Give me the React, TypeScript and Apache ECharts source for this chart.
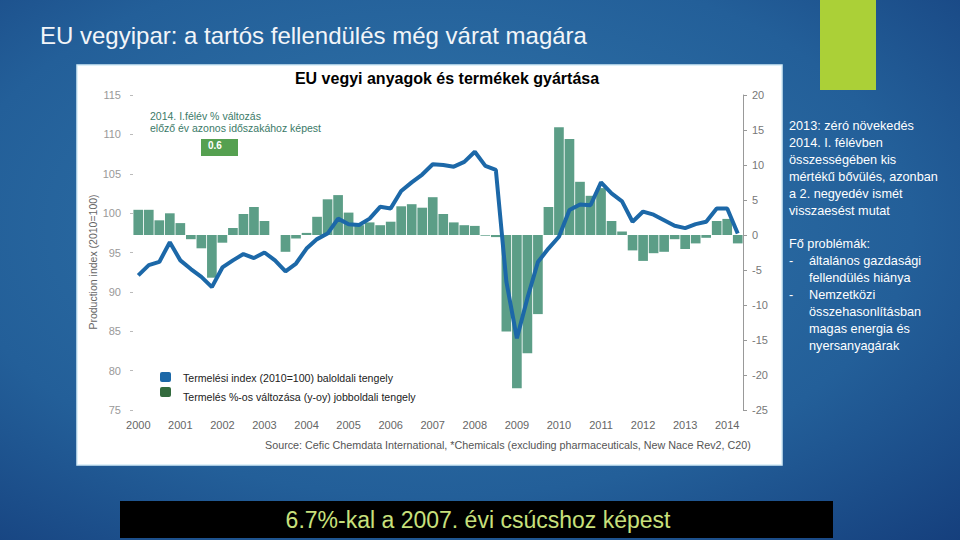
import React, { useEffect, useRef } from "react";
import * as echarts from "echarts";

const years = ["2000", "2001", "2002", "2003", "2004", "2005", "2006", "2007", "2008", "2009", "2010", "2011", "2012", "2013", "2014"];
const quarterNames = ["Q1", "Q2", "Q3", "Q4"];
const categories: string[] = [];
years.forEach((y) => quarterNames.forEach((q) => categories.push(y + " " + q)));
categories.length = 58; // 2000 Q1 – 2014 Q2

// Production index (2010=100), left axis
const productionIndex = [
  92.1, 93.4, 93.8, 96.3, 94.0, 92.9, 91.9, 90.6, 93.1, 94.0, 94.8, 94.3, 95.0, 94.0, 92.6, 93.6,
  95.5, 96.7, 97.4, 99.3, 98.6, 98.5, 99.3, 100.8, 100.6, 102.8, 103.9, 104.9, 106.2, 106.1, 105.9, 106.5,
  107.8, 106.0, 105.5, 91.3, 84.1, 89.2, 93.8, 95.5, 97.0, 100.4, 101.1, 101.0, 103.9, 102.5, 101.5, 98.9,
  100.2, 99.8, 99.1, 98.4, 98.1, 98.6, 98.9, 100.6, 100.6, 97.4,
];

// Year-on-year % change, right axis
const yoyChange = [
  3.6, 3.6, 2.1, 3.1, 1.7, -0.6, -1.9, -6.1, -1.1, 1.0, 3.0, 4.0, 2.0, 0.0, -2.4, -0.5,
  0.3, 2.6, 5.1, 5.7, 3.2, 1.4, 1.8, 1.4, 1.9, 4.1, 4.4, 3.9, 5.4, 3.0, 1.8, 1.4,
  1.3, -0.1, -0.3, -13.8, -21.9, -16.9, -11.3, 4.0, 15.4, 13.7, 7.6, 5.6, 6.7, 2.0, 0.5, -2.2,
  -3.7, -2.6, -2.4, -0.6, -2.0, -1.2, -0.4, 2.0, 2.3, -1.2,
];

const slideTitle = "EU vegyipar: a tartós fellendülés még várat magára";
const chartTitle = "EU vegyi anyagok és termékek gyártása";
const noteLines = ["2014. I.félév % változás", "előző év azonos időszakához képest"];
const noteValue = "0.6";
const yName = "Production index (2010=100)";
const legendLine = "Termelési index (2010=100) baloldali tengely";
const legendBar = "Termelés %-os változása (y-oy) jobboldali tengely";
const sourceText = "Source: Cefic Chemdata International, *Chemicals (excluding pharmaceuticals, New Nace Rev2, C20)";
const bannerText = "6.7%-kal a 2007. évi csúcshoz képest";
const sideLines = [
  { t: "2013: zéró növekedés", indent: 0 },
  { t: "2014. I. félévben", indent: 0 },
  { t: "összességében kis", indent: 0 },
  { t: "mértékű bővülés, azonban", indent: 0 },
  { t: "a 2. negyedév ismét", indent: 0 },
  { t: "visszaesést mutat", indent: 0 },
  { t: "", indent: 0 },
  { t: "Fő problémák:", indent: 0 },
  { t: "általános gazdasági", indent: 1 },
  { t: "fellendülés hiánya", indent: 1 },
  { t: "Nemzetközi", indent: 1 },
  { t: "összehasonlításban", indent: 1 },
  { t: "magas energia és", indent: 1 },
  { t: "nyersanyagárak", indent: 1 },
];
const dashLines = [8, 10];

const FONT = "Liberation Sans, Arial, sans-serif";

export default function App() {
  const ref = useRef<HTMLDivElement>(null);
  useEffect(() => {
    if (!ref.current) return;
    const chart = echarts.init(ref.current, null, { renderer: "svg" });

    const graphics: any[] = [];
    graphics.push({
      type: "rect",
      z: -100,
      shape: { x: 0, y: 0, width: 960, height: 540 },
      style: {
        fill: new echarts.graphic.RadialGradient(0.45, 0.42, 1.0, [
          { offset: 0, color: "#3278ac" },
          { offset: 0.5, color: "#235f99" },
          { offset: 1, color: "#0c2a6a" },
        ]),
      },
    });
    graphics.push({ type: "rect", z: -90, shape: { x: 820, y: 0, width: 56, height: 90 }, style: { fill: "#abd037" } });
    graphics.push({
      type: "text", z: 10, x: 40, y: 35,
      style: { text: slideTitle, fill: "#f2f5f9", fontSize: 24, fontFamily: FONT, textVerticalAlign: "middle" },
    });
    graphics.push({
      type: "rect", z: -80, shape: { x: 77, y: 65, width: 705, height: 400 },
      style: { fill: "#ffffff", stroke: "#d3ecf7", lineWidth: 1.5 },
    });
    graphics.push({
      type: "text", z: 10, x: 447, y: 78,
      style: { text: chartTitle, fill: "#000", fontSize: 16, fontWeight: "bold", fontFamily: FONT, textAlign: "center", textVerticalAlign: "middle" },
    });
    noteLines.forEach((t, i) => {
      graphics.push({
        type: "text", z: 10, x: 150, y: 116 + i * 12,
        style: { text: t, fill: "#3b7a68", fontSize: 10.5, fontFamily: FONT, textVerticalAlign: "middle" },
      });
    });
    graphics.push({ type: "rect", z: 10, shape: { x: 201, y: 139, width: 37, height: 17 }, style: { fill: "#55a050" } });
    graphics.push({
      type: "text", z: 11, x: 208, y: 145,
      style: { text: noteValue, fill: "#fff", fontSize: 10, fontWeight: "bold", fontFamily: FONT, textVerticalAlign: "middle" },
    });
    graphics.push({
      type: "text", z: 10, x: 93, y: 262, rotation: Math.PI / 2,
      style: { text: yName, fill: "#666", fontSize: 10.5, fontFamily: FONT, textAlign: "center", textVerticalAlign: "middle" },
    });
    graphics.push({ type: "rect", z: 10, shape: { x: 160, y: 372, width: 11, height: 10, r: 2 }, style: { fill: "#1c68a8" } });
    graphics.push({ type: "rect", z: 10, shape: { x: 160, y: 387, width: 11, height: 10, r: 2 }, style: { fill: "#336b3e" } });
    graphics.push({
      type: "text", z: 10, x: 183, y: 378,
      style: { text: legendLine, fill: "#222", fontSize: 10.6, fontFamily: FONT, textVerticalAlign: "middle" },
    });
    graphics.push({
      type: "text", z: 10, x: 183, y: 397,
      style: { text: legendBar, fill: "#222", fontSize: 10.6, fontFamily: FONT, textVerticalAlign: "middle" },
    });
    graphics.push({
      type: "text", z: 10, x: 265, y: 445,
      style: { text: sourceText, fill: "#555", fontSize: 10.75, fontFamily: FONT, textVerticalAlign: "middle" },
    });
    sideLines.forEach((l, i) => {
      if (!l.t) return;
      graphics.push({
        type: "text", z: 10, x: l.indent ? 809 : 789, y: 126 + i * 16.9,
        style: { text: l.t, fill: "#ffffff", fontSize: 12.7, fontFamily: FONT, textVerticalAlign: "middle" },
      });
    });
    dashLines.forEach((i) => {
      graphics.push({
        type: "text", z: 10, x: 789, y: 126 + i * 16.9,
        style: { text: "-", fill: "#ffffff", fontSize: 12.7, fontFamily: FONT, textVerticalAlign: "middle" },
      });
    });
    graphics.push({ type: "rect", z: 10, shape: { x: 120, y: 501, width: 713, height: 37 }, style: { fill: "#000" } });
    graphics.push({
      type: "text", z: 11, x: 478, y: 520,
      style: { text: bannerText, fill: "#c8e07c", fontSize: 23, fontFamily: FONT, textAlign: "center", textVerticalAlign: "middle" },
    });

    chart.setOption({
      animation: false,
      backgroundColor: "transparent",
      grid: { left: 133, right: 217, top: 95, bottom: 130, containLabel: false },
      xAxis: {
        type: "category",
        data: categories,
        boundaryGap: true,
        axisLine: { show: false },
        axisTick: { show: false },
        axisLabel: {
          interval: 3,
          margin: 9,
          color: "#666",
          fontSize: 11,
          fontFamily: FONT,
          formatter: (v: string) => v.split(" ")[0],
        },
      },
      yAxis: [
        {
          type: "value",
          min: 75,
          max: 115,
          interval: 5,
          position: "left",
          axisLine: { show: false },
          axisTick: { show: true, length: 3, lineStyle: { color: "#bbb" } },
          splitLine: { show: false },
          axisLabel: { color: "#999", fontSize: 11, fontFamily: FONT, margin: 12 },
        },
        {
          type: "value",
          min: -25,
          max: 20,
          interval: 5,
          position: "right",
          axisLine: { show: true, lineStyle: { color: "#999", width: 1 } },
          axisTick: { show: true, length: 4, lineStyle: { color: "#999" } },
          splitLine: { show: false },
          axisLabel: { color: "#777", fontSize: 11, fontFamily: FONT, margin: 9 },
        },
      ],
      series: [
        {
          type: "bar",
          yAxisIndex: 1,
          data: yoyChange,
          barCategoryGap: "8%",
          itemStyle: { color: "#5c9e87" },
          z: 2,
        },
        {
          type: "line",
          yAxisIndex: 0,
          data: productionIndex,
          symbol: "none",
          lineStyle: { color: "#1c68a8", width: 4 },
          z: 3,
        },
      ],
      graphic: { elements: graphics },
    });
    return () => chart.dispose();
  }, []);
  return <div ref={ref} style={{ position: "absolute", left: 0, top: 0, width: 960, height: 540 }} />;
}
